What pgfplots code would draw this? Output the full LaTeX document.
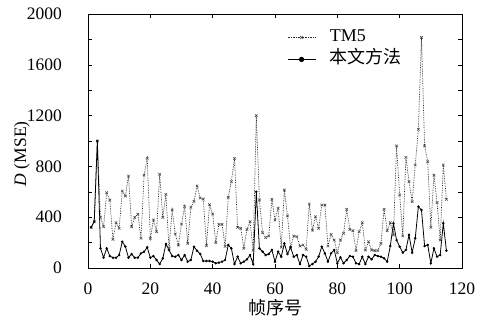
\documentclass[border=0pt]{standalone}
\usepackage{fontspec}
\setmainfont{Liberation Serif}
\newfontfamily\cjk{Noto Sans CJK SC}
\usepackage{pgfplots}
\usepackage{pgfplotstable}
\pgfplotsset{compat=1.18}
\pgfplotstableread{
x tm ours
1 320 320
2 365 365
3 1000 1000
4 400 155
5 325 81
6 593 155
7 535 94
8 226 81
9 357 81
10 312 102
11 606 207
12 567 168
13 724 81
14 325 110
15 399 81
16 423 81
17 234 115
18 732 128
19 864 163
20 234 81
21 378 94
22 286 63
23 738 31
24 399 76
25 580 189
26 155 141
27 457 94
28 268 89
29 181 102
30 346 63
31 483 102
32 194 50
33 478 63
34 525 168
35 646 136
36 551 110
37 543 55
38 176 55
39 499 55
40 425 50
41 200 37
42 344 42
43 344 50
44 170 63
45 556 181
46 680 155
47 864 31
48 320 89
49 312 37
50 155 50
51 304 68
52 365 102
53 140 30
54 1200 600
55 536 155
56 278 129
57 239 102
58 252 110
59 541 142
60 378 50
61 470 129
62 163 89
63 614 194
64 410 110
65 163 163
66 252 89
67 247 102
68 173 31
69 181 102
70 147 89
71 504 16
72 299 31
73 404 50
74 312 89
75 496 168
76 496 116
77 173 50
78 265 116
79 220 142
80 121 37
81 220 84
82 273 37
83 462 63
84 304 94
85 294 89
86 137 37
87 286 31
88 357 89
89 142 31
90 207 89
91 142 68
92 137 102
93 137 94
94 194 89
95 462 76
96 294 50
97 357 173
98 260 352
99 961 220
100 575 168
101 252 121
102 871 142
103 680 260
104 522 121
105 811 234
106 1092 483
107 1816 457
108 961 173
109 837 181
110 320 37
111 732 155
112 515 89
113 220 102
114 811 352
115 541 137
}\data
\begin{document}
\begin{tikzpicture}
\path[use as bounding box] (-88bp,-57bp) rectangle (395bp,268bp);
\begin{axis}[
  scale only axis,
  width=374bp, height=254bp,
  xmin=0, xmax=120, ymin=0, ymax=2000,
  xtick={0,20,...,120},
  ytick={0,400,...,2000},
  minor y tick num=1,
  tick align=inside,
  major tick length=4bp,
  minor tick length=4bp,
  axis line style={line width=0.8pt},
  every tick/.style={black, line width=0.6pt},
  /pgf/number format/assume math mode=true,
  /pgf/number format/1000 sep={},
  tick label style={font=\fontsize{17.5bp}{20bp}\selectfont},
  yticklabel style={inner sep=0pt, anchor=east, xshift=-26bp},
  xticklabel style={inner sep=0pt, anchor=north, yshift=-15bp},
  xlabel={\cjk 帧序号},
  xlabel style={font=\fontsize{18bp}{21bp}\selectfont, at={(axis description cs:0.5,0)}, anchor=north, inner sep=0pt, yshift=-31bp},
  ylabel={\textit{D} (MSE)},
  ylabel style={font=\fontsize{17.5bp}{20bp}\selectfont, at={(axis description cs:0,0.45)}, anchor=south, inner sep=0pt, yshift=58bp},
  legend style={draw=none, fill=none, inner sep=0pt, row sep=6bp,
    font=\fontsize{18bp}{21bp}\selectfont,
    at={(0.532,0.94)}, anchor=north west,
    nodes={inner sep=0pt, anchor=west, text height=12bp, text depth=4bp},
    /tikz/every odd column/.append style={column sep=14bp}},
  legend image code/.code={\draw[mark repeat=2,mark phase=2,#1] plot coordinates {(0bp,0bp) (14bp,0bp) (28bp,0bp)};},
  legend image post style={mark size=2.2pt},
  legend cell align=left,
]
\addplot[black!85, densely dotted, line width=0.7pt, mark=x, mark size=1.8pt, mark options={solid, black!70, line width=0.6pt}] table[x=x,y=tm] {\data};
\addlegendentry{TM5}
\addplot[black, line width=0.8pt, mark=*, mark size=0.8pt] table[x=x,y=ours] {\data};
\addlegendentry{\cjk 本文方法}
\end{axis}
\end{tikzpicture}
\end{document}
